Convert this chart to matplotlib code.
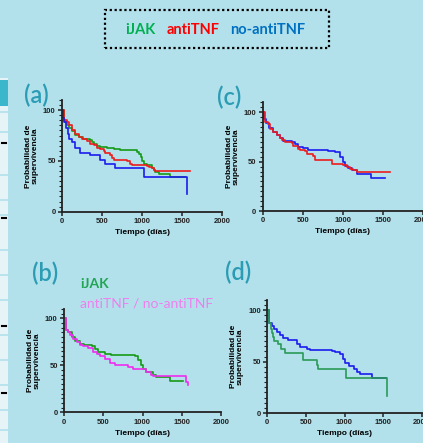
import matplotlib.pyplot as plt
from matplotlib.patches import Rectangle
from matplotlib.ticker import MultipleLocator

# curvas de supervivencia (dias, %)
a_ijak_t = [0, 21, 40, 63, 90, 125, 160, 208, 260, 354, 380, 396, 437, 480, 563, 650, 729, 850, 937, 960, 985, 1000, 1021, 1060, 1125, 1150, 1167, 1208, 1354, 1540]
a_ijak_s = [100, 90, 88, 85, 82, 79, 76, 74, 72, 71, 69, 67, 65, 63.5, 62.5, 62, 61, 60.5, 59, 57, 54, 50, 46.5, 45.5, 43, 41, 39.5, 37.5, 34, 34]
a_anti_t = [0, 21, 63, 83, 125, 167, 208, 250, 312, 354, 396, 437, 480, 520, 540, 604, 625, 646, 812, 850, 875, 1062, 1090, 1125, 1145, 1167, 1604]
a_anti_s = [100, 90, 88, 85, 80, 77, 74, 72, 70, 67, 65.5, 63, 61.6, 60, 57.4, 55.7, 53, 50.8, 49.8, 47, 45.9, 45, 44, 43.3, 41.5, 40, 40]
a_noanti_t = [0, 15, 30, 45, 70, 83, 125, 167, 230, 345, 480, 533, 658, 1020, 1560, 1560]
a_noanti_s = [100, 92, 88.5, 82, 77, 72, 69, 63, 58, 56, 51, 46.5, 42.6, 34.4, 17, 17]

c_blue_t = [0, 20, 42, 83, 133, 175, 216, 258, 362, 404, 446, 508, 560, 820, 904, 967, 1008, 1030, 1070, 1112, 1175, 1354, 1529]
c_blue_s = [100, 93, 88.8, 84.5, 80.4, 77, 73.6, 71.3, 69.5, 67.6, 65, 63.5, 61.8, 61, 59.5, 55, 50, 46, 44, 41.6, 37.5, 33.8, 33.8]
c_red_t = [0, 29, 71, 92, 133, 175, 217, 238, 279, 362, 383, 446, 467, 529, 550, 633, 654, 821, 862, 1008, 1050, 1092, 1133, 1175, 1592]
c_red_s = [100, 90.5, 87.8, 83, 80, 77, 73.6, 72, 70, 68.6, 66, 63, 61.5, 61, 57.4, 56, 52, 51.4, 47.3, 46.6, 45, 43, 41.6, 40, 40]

b_ijak_t = [0, 25, 55, 98, 140, 200, 250, 352, 395, 437, 521, 600, 818, 903, 945, 987, 1008, 1050, 1136, 1178, 1348, 1517]
b_ijak_s = [100, 88, 85, 80, 76, 73, 72, 70.6, 67, 64, 62.4, 61, 60.5, 59.5, 56, 50, 46, 43, 40, 38, 33.8, 33.8]
b_comb_t = [0, 25, 55, 76, 119, 161, 200, 246, 309, 373, 420, 458, 521, 585, 648, 818, 881, 1050, 1114, 1140, 1560, 1575, 1580]
b_comb_s = [100, 88, 86, 82, 78, 74.5, 72, 70.6, 68, 64, 62, 60, 57, 53, 50, 48.6, 46, 42.5, 40, 39, 32, 29, 29]

d_blue_t = [0, 26, 56, 87, 121, 165, 208, 273, 338, 381, 424, 511, 554, 835, 879, 944, 987, 1009, 1052, 1117, 1160, 1195, 1355, 1537]
d_blue_s = [100, 88, 85, 82, 79, 76, 73, 71.5, 71, 67.5, 64, 62.7, 61.5, 60.5, 59.6, 57, 52.6, 49, 45.8, 43, 40, 37.7, 34, 34]
d_green_t = [0, 26, 48, 56, 69, 87, 143, 173, 229, 336, 467, 650, 660, 1013, 1556, 1556]
d_green_s = [100, 88, 82, 78, 74, 70, 67, 62, 58, 58, 51.6, 47, 43, 34.4, 17, 17]

fondo = "#b2e1ec"
teal = "#2b9cb4"
fig = plt.figure(figsize=(4.23, 4.43), dpi=100)
fig.patch.set_facecolor(fondo)
W, H = 423, 443


def px(x, y):
    return x / W, 1 - y / H


def panel(rect, curvas, letra, lpos):
    l, t, r, b = rect
    ax = fig.add_axes([l / W, 1 - b / H, (r - l) / W, (b - t) / H])
    ax.set_facecolor(fondo)
    for tt, ss, col in curvas:
        ax.step(tt, ss, where="post", color=col, lw=1.2)
    ax.set_xlim(0, 2000)
    ax.set_ylim(0, 110)
    ax.set_xticks([0, 500, 1000, 1500, 2000])
    ax.set_yticks([0, 50, 100])
    ax.yaxis.set_minor_locator(MultipleLocator(5))
    for s in ["top", "right"]:
        ax.spines[s].set_visible(False)
    for s in ["left", "bottom"]:
        ax.spines[s].set_linewidth(1.3)
        ax.spines[s].set_color("#222222")
    ax.tick_params(which="major", length=3, width=1.1, pad=1.5, labelsize=5.5, colors="#222222")
    ax.tick_params(which="minor", length=2, width=0.8, colors="#222222")
    for lab in ax.get_xticklabels() + ax.get_yticklabels():
        lab.set_fontweight("bold")
        lab.set_fontfamily("Liberation Sans")
    ax.set_xlabel("Tiempo (días)", fontsize=6, fontweight="bold", family="Liberation Sans", labelpad=3)
    ax.set_ylabel("Probabilidad de\nsupervivencia", fontsize=6, fontweight="bold", family="Liberation Sans", labelpad=3, linespacing=1.0)
    x, y = px(*lpos)
    fig.text(x, y, letra, color=teal, fontsize=17, family="Lato", fontweight="semibold", va="center", ha="left")
    return ax


panel((62, 100, 222, 211.7), [(a_ijak_t, a_ijak_s, "#169a16"), (a_anti_t, a_anti_s, "#ee1c1c"),
                              (a_noanti_t, a_noanti_s, "#1c1cee")], "(a)", (24, 95))
panel((262.7, 102.4, 422.7, 211), [(c_blue_t, c_blue_s, "#1c1cee"), (c_red_t, c_red_s, "#ee1c1c")], "(c)", (217, 97))
panel((64, 309, 221, 412.3), [(b_ijak_t, b_ijak_s, "#169a16"), (b_comb_t, b_comb_s, "#f02cf0")], "(b)", (32, 273))
panel((267.3, 300, 421.7, 413), [(d_blue_t, d_blue_s, "#1c1cee"), (d_green_t, d_green_s, "#2a9a55")], "(d)", (225, 272))

# leyenda punteada arriba
x0, y0 = px(105, 48)
box = Rectangle((x0, y0), 224 / W, 38 / H, transform=fig.transFigure, fill=False,
                ec="black", lw=1.6, ls=(0, (1, 1.2)))
fig.patches.append(box)
for txt, xx, col in [("iJAK", 125, "#00b050"), ("antiTNF", 167, "#ff0000"), ("no-antiTNF", 230, "#0070c0")]:
    x, y = px(xx, 30)
    fig.text(x, y, txt, color=col, fontsize=10.5, fontweight="bold", family="Lato", va="center", ha="left")

x, y = px(80, 284)
fig.text(x, y, "iJAK", color="#22a552", fontsize=10, fontweight="bold", family="Lato", va="center")
x, y = px(80, 303)
fig.text(x, y, "antiTNF / no-antiTNF", color="#ee80ee", fontsize=10, family="Lato", va="center")

# franja de la diapositiva a la izquierda
x, y = px(0, 443)
fig.patches.append(Rectangle((x, y), 8 / W, 365 / H, transform=fig.transFigure, color="#e6f3f7", lw=0))
x, y = px(0, 106)
fig.patches.append(Rectangle((x, y), 8 / W, 26 / H, transform=fig.transFigure, color="#3bb7cc", lw=0))
for yy in [112, 132, 175, 200, 215, 250, 275, 300, 335, 360, 385, 410, 430]:
    x1, y1 = px(0, yy)
    x2, _ = px(8, yy)
    fig.lines.append(plt.Line2D([x1, x2], [y1, y1], transform=fig.transFigure, color=fondo, lw=1.2))
for yy in [143, 218, 326, 393]:
    x1, y1 = px(2, yy)
    x2, _ = px(6, yy)
    fig.lines.append(plt.Line2D([x1, x2], [y1, y1], transform=fig.transFigure, color="black", lw=1.5))

fig.savefig("out.png", dpi=100, facecolor=fondo)
